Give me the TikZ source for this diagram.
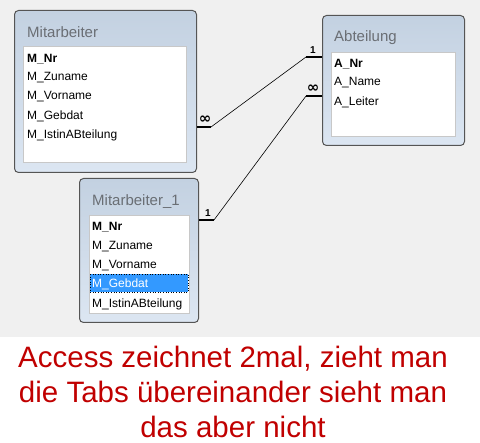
\documentclass[tikz,border=0pt]{standalone}
\usepackage{fontspec}
\setmainfont{Liberation Sans}
\newfontfamily\symfont{DejaVu Sans}
\definecolor{bg}{HTML}{F0F0F0}
\definecolor{tabline}{HTML}{555555}
\definecolor{tabtop}{HTML}{C3D1E1}
\definecolor{tabbot}{HTML}{DCE6F2}
\definecolor{listline}{HTML}{C8C8C8}
\definecolor{titlegray}{HTML}{6A6E74}
\definecolor{selblue}{HTML}{3399FF}
\definecolor{notered}{HTML}{C00000}
\tikzset{
  tab/.style={draw=tabline,line width=1pt,rounded corners=4pt,top color=tabtop,bottom color=tabbot,anchor=north west,inner sep=0pt},
  list/.style={draw=listline,fill=white,anchor=north west,inner sep=0pt},
  title/.style={anchor=west,text=titlegray,font=\fontsize{15}{18}\selectfont,inner sep=0pt},
  field/.style={anchor=west,font=\fontsize{12}{14}\selectfont,inner sep=0pt},
  key/.style={field,font=\bfseries\fontsize{12}{14}\selectfont},
  stub/.style={line width=2.5pt},
  rel/.style={line width=0.6pt},
  card/.style={font=\bfseries\fontsize{10}{10}\selectfont,inner sep=0pt},
  many/.style={font=\symfont\bfseries\fontsize{15}{15}\selectfont,inner sep=0pt}
}
\begin{document}
\begin{tikzpicture}[x=1pt,y=-1pt]
\fill[bg] (0,0) rectangle (480,337);
\useasboundingbox (0,0) rectangle (480,443);

\node[tab,minimum width=182pt,minimum height=162pt] (mit) at (14,10) {};
\node[title] (mittitle) at (27,32) {Mitarbeiter};
\node[list,minimum width=163pt,minimum height=116pt] (mitlist) at (23,46) {};
\node[key] (mnr) at (27,59) {M\_Nr};
\node[field] (mzun) at (27,78) {M\_Zuname};
\node[field] (mvor) at (27,97) {M\_Vorname};
\node[field] (mgeb) at (27,116) {M\_Gebdat};
\node[field] (mist) at (27,135) {M\_IstinABteilung};

\node[tab,minimum width=142pt,minimum height=130pt] (abt) at (322,15) {};
\node[title] (abttitle) at (334,38) {Abteilung};
\node[list,minimum width=124pt,minimum height=84pt] (abtlist) at (331,52) {};
\node[key] (anr) at (334,64) {A\_Nr};
\node[field] (aname) at (334,83) {A\_Name};
\node[field] (aleit) at (334,102) {A\_Leiter};

\node[tab,minimum width=119pt,minimum height=144pt] (mone) at (79,178) {};
\node[title] (monetitle) at (92,202) {Mitarbeiter\_1};
\node[list,minimum width=100pt,minimum height=98pt] (monelist) at (89,215) {};
\fill[selblue] (90,274) rectangle (188,292);
\draw[dotted,line width=0.6pt] (90,274) rectangle (188,292);
\node[key] (onr) at (92,227) {M\_Nr};
\node[field] (ozun) at (92,246.5) {M\_Zuname};
\node[field] (ovor) at (92,266) {M\_Vorname};
\node[field,text=white] (ogeb) at (92,284.5) {M\_Gebdat};
\node[field] (oist) at (92,304) {M\_IstinABteilung};

\coordinate (m1) at (mit.east |- 0,127);
\coordinate (m2) at (211,127);
\coordinate (a1) at (abt.west |- 0,57);
\coordinate (a2) at (306,57);
\coordinate (b1) at (abt.west |- 0,96);
\coordinate (b2) at (306,96);
\coordinate (o1) at (mone.east |- 0,220);
\coordinate (o2) at (214,220);

\draw[stub] (m1) -- (m2);
\draw[rel] (m2) -- (a2);
\draw[stub] (a2) -- (a1);
\draw[stub] (b1) -- (b2);
\draw[rel] (b2) -- (o2);
\draw[stub] (o2) -- (o1);
\node[many] (cm) at (205,120) {∞};
\node[card] (ca) at (313,50) {1};
\node[many] (cb) at (313,89) {∞};
\node[card] (co) at (208,213) {1};

\node[text=notered,font=\fontsize{29.5}{35}\selectfont,align=center] (note) at (233,392)
  {Access zeichnet 2mal, zieht man\\die Tabs übereinander sieht man\\das aber nicht};
\end{tikzpicture}
\end{document}
